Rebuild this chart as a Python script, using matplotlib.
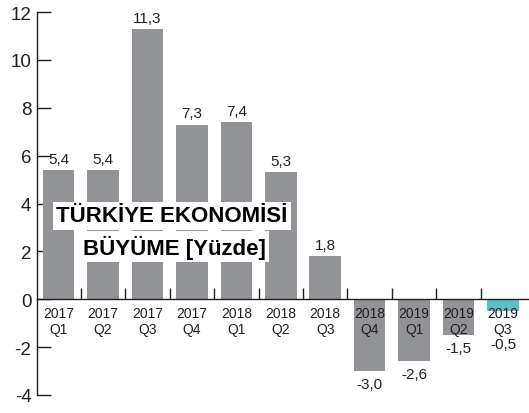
import matplotlib
matplotlib.use("Agg")
import matplotlib.pyplot as plt
import numpy as np

plt.rcParams['font.family'] = ['Liberation Sans', 'DejaVu Sans']

years = ["2017", "2017", "2017", "2017", "2018", "2018", "2018", "2018", "2019", "2019", "2019"]
quarters = ["Q1", "Q2", "Q3", "Q4", "Q1", "Q2", "Q3", "Q4", "Q1", "Q2", "Q3"]
values = [5.4, 5.4, 11.3, 7.3, 7.4, 5.3, 1.8, -3.0, -2.6, -1.5, -0.5]
value_labels = ["5,4", "5,4", "11,3", "7,3", "7,4", "5,3", "1,8", "-3,0", "-2,6", "-1,5", "-0,5"]
yticks = [-4, -2, 0, 2, 4, 6, 8, 10, 12]
title_lines = ["TÜRKİYE EKONOMİSİ", "BÜYÜME [Yüzde]"]

gray = "#929396"
teal = "#5bc2c4"
dark = "#231f20"

fig = plt.figure(figsize=(5.29, 4.14), dpi=100)
ax = fig.add_axes([37/529, 18/414, 1 - 37/529, (396-13)/414])

x = np.arange(len(values))
colors = [gray] * (len(values) - 1) + [teal]
ax.bar(x, values, width=0.71, color=colors, zorder=2)

ax.set_xlim(-0.484, len(values) - 1 + 0.585)
ax.set_ylim(-4, 12)

for s in ['top', 'right']:
    ax.spines[s].set_visible(False)
ax.spines['left'].set_color(dark)
ax.spines['left'].set_linewidth(1.0)
ax.spines['bottom'].set_position(('data', 0))
ax.spines['bottom'].set_color(dark)
ax.spines['bottom'].set_linewidth(1.0)
ax.spines['bottom'].set_zorder(3)

ax.set_yticks(yticks)
ax.set_yticklabels([str(t) for t in yticks])
ax.tick_params(axis='y', direction='in', length=10, width=1.0, color=dark,
               labelsize=13.5, labelcolor=dark, pad=4)
ax.set_xticks(x[:-1] + 0.5)
ax.set_xticklabels([])
ax.tick_params(axis='x', direction='in', length=8, width=1.0, color=dark)

for xi, v, lab, yr, q in zip(x, values, value_labels, years, quarters):
    ax.annotate(f"{yr}\n{q}", (xi, 0), xytext=(0, -5), textcoords='offset points',
                ha='center', va='top', fontsize=10, color=dark, linespacing=1.15, zorder=4)
    if v >= 0:
        ax.annotate(lab, (xi, v), xytext=(0, 3), textcoords='offset points',
                    ha='center', va='bottom', fontsize=11, color=dark)
    else:
        ax.annotate(lab, (xi, min(v, -1.35)), xytext=(0, -4), textcoords='offset points',
                    ha='center', va='top', fontsize=11, color=dark)

ax.text(2.55, 3.49, title_lines[0], ha='center', va='center', fontsize=16,
        fontweight='bold', color='black', zorder=5,
        bbox=dict(boxstyle='square,pad=0.15', fc='white', ec='none'))
ax.text(2.6, 2.19, title_lines[1], ha='center', va='center', fontsize=16,
        fontweight='bold', color='black', zorder=5,
        bbox=dict(boxstyle='square,pad=0.15', fc='white', ec='none'))

fig.savefig("out.png", dpi=100)
